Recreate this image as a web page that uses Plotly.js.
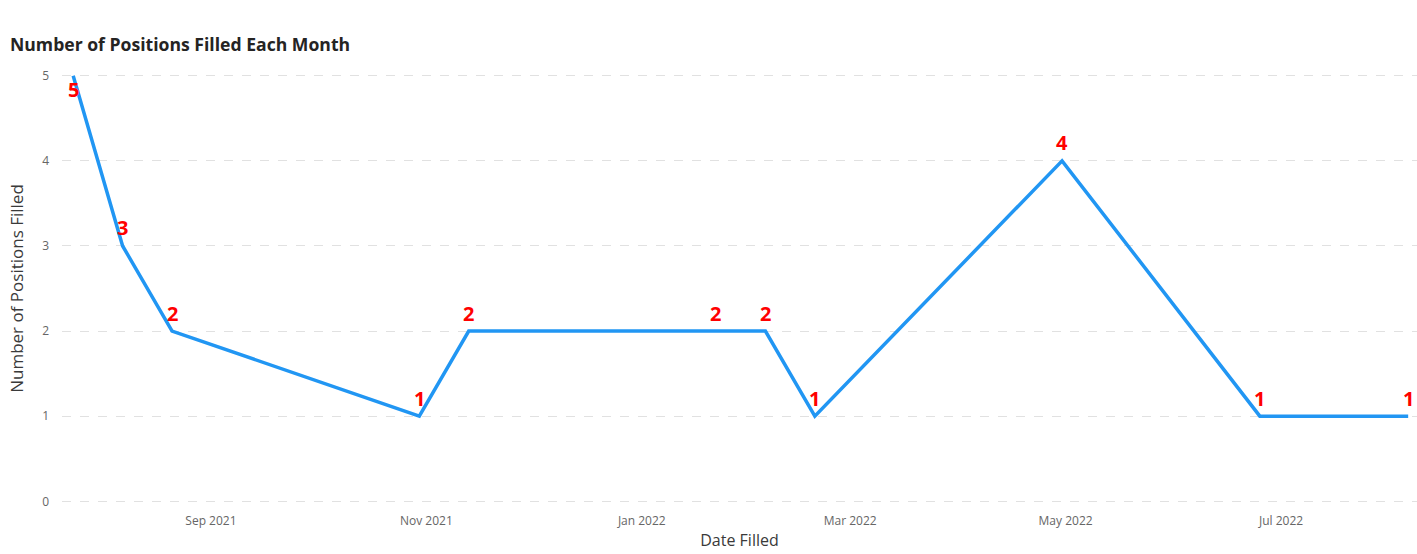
<!DOCTYPE html>
<html>
<head>
<meta charset="utf-8">
<script src="https://cdn.plot.ly/plotly-3.0.1.min.js"></script>
<style>html,body{margin:0;padding:0;background:#fff;}#chart{width:1417px;height:554px;}</style>
</head>
<body>
<div id="chart"></div>
<script>
const dates = ['2021-07-24','2021-08-07','2021-08-21','2021-10-30','2021-11-13','2022-01-22','2022-02-05','2022-02-19','2022-04-30','2022-06-25','2022-08-06'];
const positionsFilled = [5, 3, 2, 1, 2, 2, 2, 1, 4, 1, 1];
const labelAbove = [false, true, true, true, true, true, true, true, true, true, true];

const trace = {
  x: dates,
  y: positionsFilled,
  type: 'scatter',
  mode: 'lines',
  line: {color: '#2196F3', width: 3.5},
  cliponaxis: false,
  hoverinfo: 'x+y'
};

const annotations = dates.map((d, i) => ({
  x: d, y: positionsFilled[i], xref: 'x', yref: 'y',
  text: String(positionsFilled[i]),
  showarrow: false,
  yshift: labelAbove[i] ? 18 : -14,
  font: {family: 'Open Sans, sans-serif', size: 20, color: '#FF0000', weight: 'bold'}
}));

const layout = {
  width: 1417, height: 554,
  paper_bgcolor: '#ffffff', plot_bgcolor: '#ffffff',
  margin: {l: 62, r: 0, t: 74, b: 51},
  showlegend: false,
  annotations: annotations,
  title: {
    text: '<b>Number of Positions Filled Each Month</b>',
    font: {family: 'Open Sans, sans-serif', size: 17.6, color: '#252423'},
    x: 10/1417, xref: 'container', xanchor: 'left',
    y: 1 - 45/554, yref: 'container', yanchor: 'middle'
  },
  xaxis: {
    type: 'date',
    range: ['2021-07-20 20:00', '2022-08-08 12:00'],
    tick0: '2021-09-01', dtick: 'M2',
    tickformat: '%b %Y',
    showgrid: false, zeroline: false, showline: false,
    ticks: '',
    ticklabelstandoff: 9,
    tickfont: {family: 'Open Sans, sans-serif', size: 12, color: '#666666'},
    title: {text: 'Date Filled', font: {family: 'Open Sans, sans-serif', size: 16, color: '#3a3a3a'}, standoff: 6},
    automargin: false
  },
  yaxis: {
    range: [-0.02, 5.02],
    dtick: 1, tick0: 0,
    showgrid: true, gridcolor: '#e1e1e1', griddash: 'dash', gridwidth: 1,
    zeroline: false, showline: false, ticks: '',
    tickfont: {family: 'Open Sans, sans-serif', size: 12, color: '#666666'},
    ticklabelstandoff: 12,
    title: {text: 'Number of Positions Filled', font: {family: 'Open Sans, sans-serif', size: 17, color: '#3a3a3a'}, standoff: 14},
    automargin: false
  }
};

Plotly.newPlot('chart', [trace], layout, {displayModeBar: false, staticPlot: true});
</script>
</body>
</html>
